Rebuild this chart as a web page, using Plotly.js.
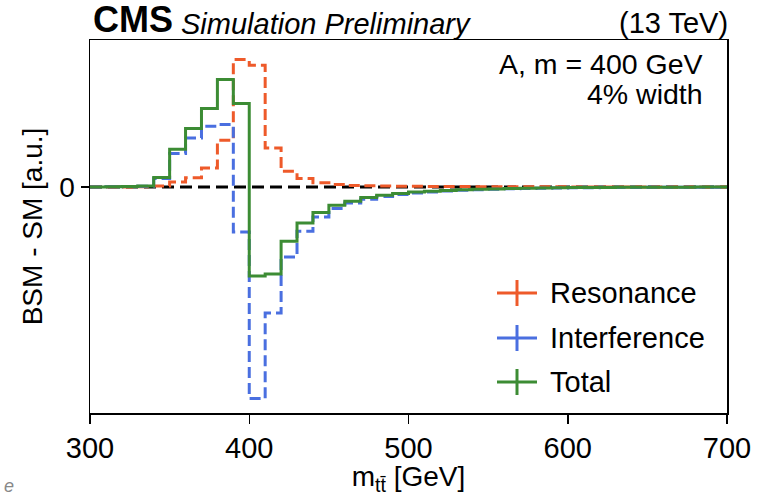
<!DOCTYPE html>
<html>
<head>
<meta charset="utf-8">
<script src="https://cdn.plot.ly/plotly-3.0.1.min.js"></script>
<style>
html,body{margin:0;padding:0;background:#fff;}
#chart{width:759px;height:496px;}
</style>
</head>
<body>
<div id="chart"></div>
<script>
// Bin edges of m_tt (GeV)
const massEdges = [300,310,320,330,340,350,360,370,380,390,400,410,420,430,440,450,460,470,480,490,
                   500,510,520,530,540,550,560,570,580,590,600,610,620,630,640,650,660,670,680,690,700];
// BSM - SM per bin (arbitrary units)
const resonance = [0,0,0,0.2,1,5,9.3,19,46.7,127.4,121.7,39,15.7,8.4,4.2,2.6,1.6,1.2,1.0,0.8,
                   0.7,0.6,0.5,0.4,0.35,0.3,0.25,0.2,0.18,0.15,0.12,0.1,0.1,0.08,0.07,0.06,0.05,0.05,0.04,0.04];
const interference = [0,0.3,0.5,0.8,8.4,33.4,49,60.7,62.4,-45,-211.6,-126,-70,-44.3,-30,-21.6,-16,-12.2,-9.5,-7.5,
                      -6,-5,-4,-3.3,-2.7,-2.2,-1.8,-1.5,-1.2,-1,-0.8,-0.7,-0.6,-0.5,-0.4,-0.35,-0.3,-0.25,-0.2,-0.2];
const total = [0,0.3,0.5,1,9.4,37.7,58.4,78.4,107.4,83.4,-89,-87,-54.3,-36,-25.6,-18.3,-14.3,-10.6,-8.3,-6.5,
               -5,-4.2,-3.4,-2.8,-2.3,-1.9,-1.5,-1.2,-1,-0.8,-0.6,-0.5,-0.4,-0.3,-0.3,-0.2,-0.2,-0.15,-0.1,-0.1];
const seriesNames = ['Resonance','Interference','Total'];
const seriesColors = ['#ee5a2a','#4a6fe0','#3c8c34'];
const yTickVals = [0];
const yTickText = ['0'];
const xTickVals = [300,400,500,600,700];

const FONT = 'Liberation Sans, Arial, Helvetica, sans-serif';

function stepY(vals){ return vals.concat([vals[vals.length-1]]); }

const traces = [
  {x: massEdges, y: stepY(resonance), mode:'lines', line:{shape:'hv', color:seriesColors[0], width:3, dash:'11px,5px'}, showlegend:false, hoverinfo:'skip'},
  {x: massEdges, y: stepY(interference), mode:'lines', line:{shape:'hv', color:seriesColors[1], width:3, dash:'11px,5px'}, showlegend:false, hoverinfo:'skip'},
  {x: massEdges, y: stepY(total), mode:'lines', line:{shape:'hv', color:seriesColors[2], width:3}, showlegend:false, hoverinfo:'skip'}
];

// Plot area in px: left 90, right 727, top 40, bottom 413
const L=90, R=727, T=40, B=413, W=759, H=496;
const pw = R-L, ph = B-T;
function px2x(p){ return (p-L)/pw; }
function px2y(p){ return (B-p)/ph; }

const shapes = [
  {type:'line', xref:'paper', yref:'y', x0:0, x1:1, y0:0, y1:0, line:{color:'#000', width:3, dash:'12px,6px'}, layer:'below'}
];
const annotations = [];
// manual legend
const legY = [293, 338, 382];
for(let i=0;i<3;i++){
  const cx = 517, cy = legY[i];
  shapes.push({type:'line', xref:'paper', yref:'paper', x0:px2x(cx-20), x1:px2x(cx+20), y0:px2y(cy), y1:px2y(cy), line:{color:seriesColors[i], width:3}});
  shapes.push({type:'line', xref:'paper', yref:'paper', x0:px2x(cx), x1:px2x(cx), y0:px2y(cy-13), y1:px2y(cy+13), line:{color:seriesColors[i], width:3}});
  annotations.push({xref:'paper', yref:'paper', x:px2x(548), y:px2y(cy), xanchor:'left', yanchor:'middle', showarrow:false,
    text:seriesNames[i], font:{family:FONT, size:29, color:'#000'}});
}
annotations.push({xref:'paper', yref:'paper', x:px2x(91), y:px2y(42), xanchor:'left', yanchor:'bottom', showarrow:false,
  text:'<b>CMS</b>', font:{family:FONT, size:36, color:'#000'}});
annotations.push({xref:'paper', yref:'paper', x:px2x(179), y:px2y(42), xanchor:'left', yanchor:'bottom', showarrow:false,
  text:'<i>Simulation Preliminary</i>', font:{family:FONT, size:29, color:'#000'}});
annotations.push({xref:'paper', yref:'paper', x:px2x(730), y:px2y(41), xanchor:'right', yanchor:'bottom', showarrow:false,
  text:'(13 TeV)', font:{family:FONT, size:29, color:'#000'}});
annotations.push({xref:'paper', yref:'paper', x:px2x(705), y:px2y(64), xanchor:'right', yanchor:'middle', showarrow:false,
  text:'A, m = 400 GeV', font:{family:FONT, size:28.5, color:'#000'}});
annotations.push({xref:'paper', yref:'paper', x:px2x(705), y:px2y(94), xanchor:'right', yanchor:'middle', showarrow:false,
  text:'4% width', font:{family:FONT, size:28.5, color:'#000'}});
annotations.push({xref:'paper', yref:'paper', x:px2x(2), y:px2y(486), xanchor:'left', yanchor:'middle', showarrow:false,
  text:'<i>e</i>', font:{family:FONT, size:18, color:'#888'}});

const layout = {
  width: W, height: H,
  margin:{l:L, r:W-R, t:T, b:H-B, pad:0},
  paper_bgcolor:'#fff', plot_bgcolor:'#fff',
  font:{family:FONT, size:28, color:'#000'},
  showlegend:false,
  xaxis:{range:[300,700], tickvals:xTickVals, ticks:'outside', ticklen:9, tickwidth:1.5, tickcolor:'#000',
         showline:true, linecolor:'#000', linewidth:1.5, mirror:true, showgrid:false, zeroline:false,
         tickfont:{family:FONT, size:29}, automargin:false,
         title:{text:'m<sub>tt\u0304</sub> [GeV]', font:{family:FONT, size:28}, standoff:6}},
  yaxis:{range:[-226,147], tickvals:yTickVals, ticktext:yTickText, ticks:'outside', ticklen:8, tickwidth:1.5, tickcolor:'#000',
         showline:true, linecolor:'#000', linewidth:1.5, mirror:true, showgrid:false, zeroline:false,
         tickfont:{family:FONT, size:28}, automargin:false,
         title:{text:'BSM - SM [a.u.]', font:{family:FONT, size:28}, standoff:8}},
  shapes: shapes,
  annotations: annotations
};

Plotly.newPlot('chart', traces, layout, {displayModeBar:false, staticPlot:true});
</script>
</body>
</html>
